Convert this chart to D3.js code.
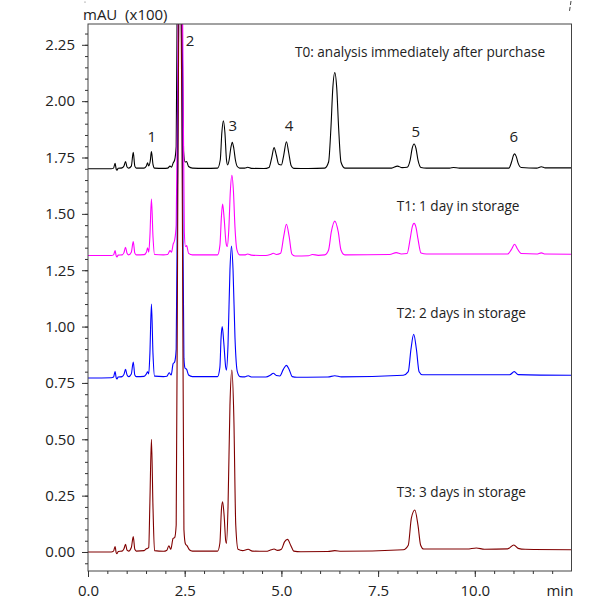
<!DOCTYPE html>
<html>
<head>
<meta charset="utf-8">
<script src="https://cdn.jsdelivr.net/npm/d3@7"></script>
<style>
  html, body { margin: 0; padding: 0; background: #fff; }
  svg { display: block; }
  text { font-family: "Open Sans", "Noto Sans", sans-serif; fill: #222; }
</style>
</head>
<body>
<svg id="chart" width="595" height="602"></svg>
<script>
// ---------------- data (time in min, signal in mAU x100) ----------------
const traceNames = ["T0", "T1", "T2", "T3"];
const traceLabels = [
  "T0: analysis immediately after purchase",
  "T1: 1 day in storage",
  "T2: 2 days in storage",
  "T3: 3 days in storage"
];
const traceColors = ["#000000", "#ff00ff", "#0000ff", "#800000"];

const t0Points = [
  [0, 1.700], [0.60, 1.700], [0.66, 1.703], [0.70, 1.724], [0.73, 1.698], [0.75, 1.694], [0.78, 1.702],
  [0.88, 1.704], [0.93, 1.712], [0.97, 1.732], [1.01, 1.708], [1.05, 1.703], [1.12, 1.712], [1.17, 1.773],
  [1.21, 1.712], [1.25, 1.703], [1.45, 1.703], [1.51, 1.712], [1.54, 1.727], [1.57, 1.713], [1.61, 1.735],
  [1.64, 1.776], [1.68, 1.720], [1.72, 1.703], [1.95, 1.702], [2.06, 1.703], [2.12, 1.712], [2.16, 1.707],
  [2.20, 1.725], [2.24, 1.739], [2.28, 1.80], [2.31, 2.6], [2.36, 3.6], [2.42, 2.6], [2.47, 1.78],
  [2.51, 1.73], [2.55, 1.732], [2.60, 1.710], [2.70, 1.703], [3.00, 1.702], [3.35, 1.703], [3.42, 1.74],
  [3.46, 1.86], [3.50, 1.913], [3.54, 1.86], [3.58, 1.74], [3.61, 1.717], [3.65, 1.74], [3.69, 1.79],
  [3.73, 1.818], [3.77, 1.79], [3.81, 1.74], [3.86, 1.71], [3.92, 1.703], [4.05, 1.703], [4.13, 1.707],
  [4.22, 1.702], [4.55, 1.701], [4.68, 1.706], [4.75, 1.75], [4.81, 1.794], [4.87, 1.76], [4.93, 1.72],
  [5.00, 1.717], [5.06, 1.76], [5.13, 1.820], [5.19, 1.77], [5.25, 1.715], [5.32, 1.702], [5.70, 1.701],
  [6.12, 1.703], [6.22, 1.73], [6.28, 1.88], [6.33, 2.06], [6.38, 2.127], [6.43, 2.06], [6.48, 1.88],
  [6.54, 1.73], [6.64, 1.703], [7.85, 1.703], [8.00, 1.712], [8.12, 1.705], [8.25, 1.707], [8.33, 1.74],
  [8.38, 1.79], [8.43, 1.810], [8.48, 1.79], [8.53, 1.74], [8.61, 1.706], [8.75, 1.703], [9.35, 1.703],
  [9.45, 1.706], [9.60, 1.703], [10.88, 1.703], [10.95, 1.73], [11.00, 1.76], [11.03, 1.766],
  [11.07, 1.755], [11.12, 1.725], [11.20, 1.706], [11.60, 1.703], [11.72, 1.709], [11.82, 1.704],
  [12.5, 1.704]
];

const t1Points = [
  [0, 1.315], [0.60, 1.315], [0.66, 1.318], [0.70, 1.337], [0.73, 1.313], [0.75, 1.309], [0.78, 1.317],
  [0.88, 1.318], [0.93, 1.328], [0.97, 1.352], [1.01, 1.325], [1.05, 1.318], [1.12, 1.330], [1.17, 1.377],
  [1.21, 1.326], [1.25, 1.318], [1.45, 1.319], [1.51, 1.330], [1.54, 1.350], [1.57, 1.330], [1.60, 1.400],
  [1.64, 1.566], [1.68, 1.400], [1.72, 1.320], [1.95, 1.318], [2.06, 1.320], [2.12, 1.337], [2.16, 1.330],
  [2.20, 1.365], [2.24, 1.384], [2.28, 1.45], [2.33, 2.3], [2.39, 3.3], [2.45, 2.3], [2.49, 1.42],
  [2.52, 1.355], [2.55, 1.359], [2.60, 1.325], [2.70, 1.318], [3.35, 1.318], [3.41, 1.36], [3.45, 1.49],
  [3.48, 1.544], [3.52, 1.48], [3.57, 1.37], [3.60, 1.355], [3.64, 1.43], [3.68, 1.60], [3.72, 1.671],
  [3.76, 1.60], [3.80, 1.44], [3.85, 1.34], [3.92, 1.318], [4.05, 1.318], [4.13, 1.322], [4.22, 1.317],
  [4.60, 1.315], [4.72, 1.320], [4.79, 1.325], [4.87, 1.320], [4.98, 1.325], [5.06, 1.40], [5.13, 1.454],
  [5.20, 1.40], [5.27, 1.322], [5.35, 1.313], [5.70, 1.314], [5.80, 1.320], [5.95, 1.316], [6.12, 1.318],
  [6.22, 1.34], [6.29, 1.42], [6.38, 1.468], [6.47, 1.42], [6.54, 1.34], [6.64, 1.318], [7.80, 1.320],
  [7.97, 1.328], [8.10, 1.322], [8.25, 1.324], [8.33, 1.39], [8.38, 1.44], [8.43, 1.458], [8.48, 1.44],
  [8.53, 1.39], [8.61, 1.326], [8.75, 1.322], [10.85, 1.322], [10.94, 1.34], [11.03, 1.365],
  [11.10, 1.345], [11.20, 1.324], [11.60, 1.322], [11.72, 1.327], [11.82, 1.322], [12.5, 1.321]
];

const t2Points = [
  [0, 0.772], [0.60, 0.773], [0.66, 0.776], [0.70, 0.800], [0.73, 0.772], [0.75, 0.768], [0.78, 0.776],
  [0.88, 0.778], [0.93, 0.788], [0.97, 0.810], [1.01, 0.785], [1.05, 0.778], [1.12, 0.790], [1.17, 0.843],
  [1.21, 0.785], [1.25, 0.778], [1.45, 0.779], [1.51, 0.790], [1.54, 0.799], [1.57, 0.790], [1.60, 0.880],
  [1.64, 1.100], [1.68, 0.880], [1.72, 0.780], [1.95, 0.778], [2.04, 0.780], [2.10, 0.795], [2.15, 0.785],
  [2.20, 0.835], [2.24, 0.843], [2.28, 0.90], [2.32, 1.8], [2.38, 2.9], [2.44, 1.8], [2.48, 0.86],
  [2.51, 0.815], [2.55, 0.810], [2.60, 0.785], [2.70, 0.778], [3.35, 0.778], [3.41, 0.82], [3.44, 0.95],
  [3.47, 1.000], [3.51, 0.93], [3.56, 0.82], [3.58, 0.807], [3.62, 0.92], [3.67, 1.25], [3.71, 1.357],
  [3.75, 1.25], [3.80, 0.95], [3.86, 0.80], [3.93, 0.778], [4.05, 0.777], [4.14, 0.782], [4.24, 0.776],
  [4.60, 0.776], [4.72, 0.785], [4.79, 0.793], [4.87, 0.783], [4.96, 0.781], [5.05, 0.810], [5.13, 0.828],
  [5.20, 0.810], [5.28, 0.778], [5.40, 0.775], [6.20, 0.776], [6.38, 0.782], [6.55, 0.777], [8.15, 0.784],
  [8.28, 0.80], [8.35, 0.90], [8.42, 0.966], [8.49, 0.90], [8.56, 0.80], [8.65, 0.786], [10.90, 0.786],
  [11.02, 0.800], [11.12, 0.787], [12.5, 0.784]
];

const t3Points = [
  [0, 0.000], [0.60, 0.000], [0.66, 0.004], [0.70, 0.024], [0.73, -0.004], [0.75, -0.008], [0.78, 0.002],
  [0.88, 0.004], [0.93, 0.014], [0.97, 0.034], [1.01, 0.008], [1.05, 0.004], [1.12, 0.020], [1.17, 0.068],
  [1.21, 0.012], [1.25, 0.004], [1.45, 0.006], [1.51, 0.014], [1.54, 0.016], [1.57, 0.020], [1.60, 0.22],
  [1.64, 0.500], [1.68, 0.20], [1.72, 0.006], [1.95, 0.003], [2.04, 0.008], [2.09, 0.028], [2.14, 0.012],
  [2.20, 0.060], [2.24, 0.064], [2.28, 0.12], [2.32, 1.5], [2.38, 3.0], [2.44, 1.5], [2.48, 0.10],
  [2.52, 0.035], [2.56, 0.028], [2.62, 0.010], [2.70, 0.004], [3.35, 0.004], [3.41, 0.04], [3.45, 0.19],
  [3.48, 0.223], [3.52, 0.16], [3.56, 0.05], [3.58, 0.038], [3.62, 0.20], [3.67, 0.65], [3.72, 0.807],
  [3.77, 0.60], [3.82, 0.12], [3.88, 0.012], [4.00, 0.006], [4.14, 0.012], [4.25, 0.004], [4.60, 0.003],
  [4.74, 0.010], [4.81, 0.013], [4.90, 0.007], [5.00, 0.012], [5.08, 0.045], [5.16, 0.056], [5.24, 0.030],
  [5.32, 0.004], [5.50, 0.001], [6.20, 0.002], [6.38, 0.006], [6.55, 0.003], [8.15, 0.010], [8.28, 0.030],
  [8.36, 0.150], [8.45, 0.186], [8.53, 0.120], [8.60, 0.030], [8.68, 0.013], [9.80, 0.013], [10.04, 0.018],
  [10.25, 0.012], [10.85, 0.014], [11.01, 0.031], [11.12, 0.016], [11.30, 0.012], [12.5, 0.010]
];

const traceData = [t0Points, t1Points, t2Points, t3Points];

// peak number annotations: [label, time, signal]
const peakLabels = [
  ["1", 1.647, 1.845], ["2", 2.637, 2.268], ["3", 3.741, 1.891],
  ["4", 5.196, 1.891], ["5", 8.472, 1.865], ["6", 11.01, 1.842]
];
// anchor (time, signal) for trace caption text
const traceLabelAnchors = [[5.35, 2.195], [7.98, 1.514], [7.98, 1.037], [7.98, 0.245]];

const yMajorTicks = [0, 0.25, 0.5, 0.75, 1.0, 1.25, 1.5, 1.75, 2.0, 2.25];
const yMinorTicks = d3.range(-0.05, 2.3001, 0.05);
const xMajorTicks = [0, 2.5, 5, 7.5, 10];
const xMinorTicks = d3.range(0, 12.001, 0.5);
const yUnitLabel = "mAU  (x100)";
const xUnitLabel = "min";

// ---------------- layout ----------------
const svg = d3.select("#chart");
const pLeft = 88, pRight = 571.5, pTop = 24, pBottom = 571;
const x = d3.scaleLinear().domain([0, 12.5]).range([pLeft, pRight]);
const y = d3.scaleLinear().domain([-0.0843, 2.3423]).range([pBottom, pTop]);

svg.append("defs").append("clipPath").attr("id", "plotclip")
  .append("rect").attr("x", pLeft).attr("y", pTop).attr("width", pRight - pLeft).attr("height", pBottom - pTop);

// traces
const line = d3.line().x(d => x(d[0])).y(d => y(d[1])).curve(d3.curveMonotoneX);
const g = svg.append("g").attr("clip-path", "url(#plotclip)");
traceData.forEach((pts, i) => {
  g.append("path").datum(pts)
    .attr("fill", "none")
    .attr("stroke", traceColors[i])
    .attr("stroke-width", 1.1)
    .attr("stroke-linejoin", "round")
    .attr("d", line);
});

// frame
svg.append("rect").attr("x", pLeft).attr("y", pTop).attr("width", pRight - pLeft).attr("height", pBottom - pTop)
  .attr("fill", "none").attr("stroke", "#444").attr("stroke-width", 1);

// y axis
const yMinor = svg.append("g").attr("transform", `translate(${pLeft},0)`)
  .call(d3.axisLeft(y).tickValues(yMinorTicks).tickSize(3).tickFormat(""));
const yMajor = svg.append("g").attr("transform", `translate(${pLeft},0)`)
  .call(d3.axisLeft(y).tickValues(yMajorTicks).tickSize(6).tickPadding(7).tickFormat(d3.format(".2f")));
// x axis
const xMinor = svg.append("g").attr("transform", `translate(0,${pBottom})`)
  .call(d3.axisBottom(x).tickValues(xMinorTicks).tickSize(3).tickFormat(""));
const xMajor = svg.append("g").attr("transform", `translate(0,${pBottom})`)
  .call(d3.axisBottom(x).tickValues(xMajorTicks).tickSize(6).tickPadding(8).tickFormat(d3.format(".1f")));

[yMinor, yMajor, xMinor, xMajor].forEach(a => {
  a.select(".domain").remove();
  a.selectAll("line").attr("stroke", "#333");
  a.selectAll("text").attr("font-family", "Open Sans").attr("font-size", 15).attr("fill", "#222");
});

// unit labels
svg.append("text").attr("x", 83).attr("y", 19.5).attr("font-size", 15).style("white-space", "pre")
  .text(yUnitLabel);
svg.append("text").attr("x", x(12.2)).attr("y", pBottom + 14).attr("dy", "0.71em")
  .attr("text-anchor", "middle").attr("font-size", 15).text(xUnitLabel);

// peak labels
svg.append("g").selectAll("text").data(peakLabels).join("text")
  .attr("x", d => x(d[1])).attr("y", d => y(d[2])).attr("dy", "0.36em")
  .attr("text-anchor", "middle").attr("font-size", 15).text(d => d[0]);

// trace captions
svg.append("g").selectAll("text").data(traceLabels).join("text")
  .attr("x", (d, i) => x(traceLabelAnchors[i][0])).attr("y", (d, i) => y(traceLabelAnchors[i][1]))
  .attr("font-size", 13.6).text(d => d);

// small stray marks seen at the page edge
svg.append("line").attr("x1", 571).attr("y1", 1).attr("x2", 569.5).attr("y2", 11)
  .attr("stroke", "#444").attr("stroke-width", 1).attr("stroke-dasharray", "4,2");
svg.append("circle").attr("cx", 85).attr("cy", 2).attr("r", 0.6).attr("fill", "#666");
</script>
</body>
</html>
